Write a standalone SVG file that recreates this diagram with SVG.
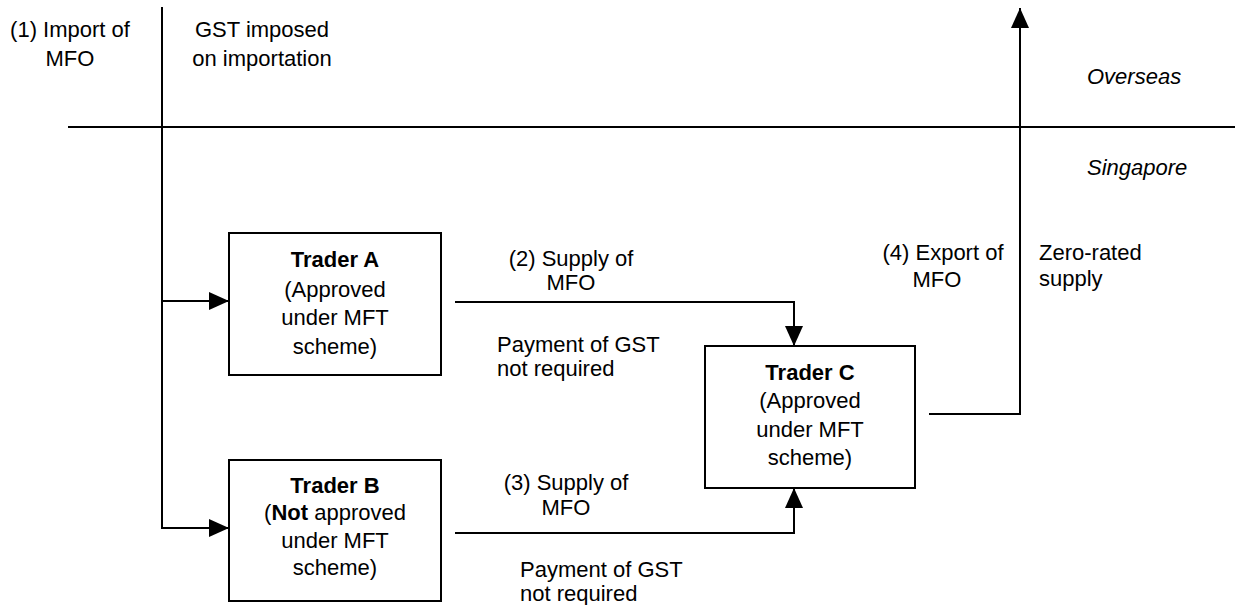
<svg xmlns="http://www.w3.org/2000/svg" width="1235" height="605" viewBox="0 0 1235 605">
<style>
text{font-family:"Liberation Sans",Arial,sans-serif;font-size:22px;fill:#000}
.c{text-anchor:middle}
.b{font-weight:bold}
.i{font-style:italic}
.box{fill:#fff;stroke:#000;stroke-width:2}
.ln{fill:none;stroke:#000;stroke-width:2}
</style>
<defs>
<marker id="ah" markerUnits="userSpaceOnUse" markerWidth="20" markerHeight="20" viewBox="0 0 20 20" refX="20" refY="10" orient="auto">
<path d="M0,1 L20,10 L0,19 Z" fill="#000"/>
</marker>
</defs>
<g id="boundary">
<line class="ln" x1="68" y1="127" x2="1235" y2="127"/>
<text class="i" x="1087" y="84">Overseas</text>
<text class="i" x="1087" y="175">Singapore</text>
</g>
<g id="connectors">
<polyline class="ln" points="162,7 162,528 229,528" marker-end="url(#ah)"/>
<line class="ln" x1="162" y1="301" x2="229" y2="301" marker-end="url(#ah)"/>
<polyline class="ln" points="455,302 794,302 794,346" marker-end="url(#ah)"/>
<polyline class="ln" points="455,533 794,533 794,488" marker-end="url(#ah)"/>
<polyline class="ln" points="929,414 1020,414 1020,8" marker-end="url(#ah)"/>
</g>
<g id="labels">
<text class="c" x="70" y="37">(1) Import of</text>
<text class="c" x="70" y="66">MFO</text>
<text class="c" x="262" y="37">GST imposed</text>
<text class="c" x="262" y="66">on importation</text>
<text class="c" x="571" y="266">(2) Supply of</text>
<text class="c" x="571" y="290">MFO</text>
<text x="497" y="352">Payment of GST</text>
<text x="497" y="376">not required</text>
<text class="c" x="566" y="490">(3) Supply of</text>
<text class="c" x="566" y="515">MFO</text>
<text x="520" y="577">Payment of GST</text>
<text x="520" y="601">not required</text>
<text class="c" x="943" y="260">(4) Export of</text>
<text class="c" x="937" y="287">MFO</text>
<text x="1039" y="260">Zero-rated</text>
<text x="1039" y="286">supply</text>
</g>
<g id="traderA">
<rect class="box" x="229" y="233" width="212" height="142"/>
<text class="c b" x="335" y="267">Trader A</text>
<text class="c" x="335" y="297">(Approved</text>
<text class="c" x="335" y="325">under MFT</text>
<text class="c" x="335" y="354">scheme)</text>
</g>
<g id="traderB">
<rect class="box" x="229" y="460" width="212" height="141"/>
<text class="c b" x="335" y="493">Trader B</text>
<text class="c" x="335" y="520">(<tspan class="b">Not</tspan> approved</text>
<text class="c" x="335" y="548">under MFT</text>
<text class="c" x="335" y="575">scheme)</text>
</g>
<g id="traderC">
<rect class="box" x="705" y="346" width="210" height="142"/>
<text class="c b" x="810" y="380">Trader C</text>
<text class="c" x="810" y="408">(Approved</text>
<text class="c" x="810" y="437">under MFT</text>
<text class="c" x="810" y="465">scheme)</text>
</g>
</svg>
